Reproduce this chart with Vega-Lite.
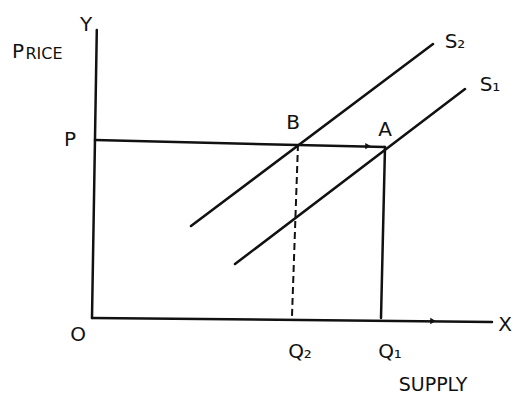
{
  "$schema": "https://vega.github.io/schema/vega-lite/v6.json",
  "width": 515,
  "height": 394,
  "padding": 0,
  "autosize": {"type": "none"},
  "background": "white",
  "config": {"view": {"stroke": null}},
  "datasets": {
    "lines": [
      {"seg": "yaxis", "o": 0, "q": 0, "p": 0},
      {"seg": "yaxis", "o": 1, "q": 0.12, "p": 9.6},
      {"seg": "xaxis", "o": 0, "q": 0, "p": 0},
      {"seg": "xaxis", "o": 1, "q": 10.0, "p": -0.13},
      {"seg": "pline", "o": 0, "q": 0.075, "p": 5.93},
      {"seg": "pline", "o": 1, "q": 7.325, "p": 5.7},
      {"seg": "s2", "o": 0, "q": 2.475, "p": 3.07},
      {"seg": "s2", "o": 1, "q": 8.525, "p": 9.13},
      {"seg": "s1", "o": 0, "q": 3.575, "p": 1.8},
      {"seg": "s1", "o": 1, "q": 9.325, "p": 7.63},
      {"seg": "q1", "o": 0, "q": 7.325, "p": 5.7},
      {"seg": "q1", "o": 1, "q": 7.225, "p": 0}
    ],
    "dashed": [
      {"seg": "q2", "o": 0, "q": 5.15, "p": 5.8},
      {"seg": "q2", "o": 1, "q": 5.0, "p": 0.07}
    ],
    "arrows": [
      {"q": 8.525, "p": -0.1},
      {"q": 6.9, "p": 5.73}
    ],
    "labels": [
      {"label": "Y", "q": -0.15, "p": 9.77},
      {"label": "P", "q": -1.85, "p": 8.87},
      {"label": "P", "q": -0.55, "p": 5.93},
      {"label": "O", "q": -0.35, "p": -0.57},
      {"label": "B", "q": 5.025, "p": 6.5},
      {"label": "A", "q": 7.325, "p": 6.27},
      {"label": "S₂", "q": 9.075, "p": 9.2},
      {"label": "S₁", "q": 9.95, "p": 7.77},
      {"label": "Q₂", "q": 5.2, "p": -1.13},
      {"label": "Q₁", "q": 7.45, "p": -1.13},
      {"label": "X", "q": 10.325, "p": -0.23}
    ],
    "small": [
      {"label": "RICE", "q": -1.2, "p": 8.8}
    ],
    "axisTitle": [
      {"label": "SUPPLY", "q": 8.525, "p": -2.23}
    ]
  },
  "encoding": {
    "x": {"field": "q", "type": "quantitative", "scale": {"domain": [-2.3, 10.575], "nice": false, "zero": false}, "axis": null},
    "y": {"field": "p", "type": "quantitative", "scale": {"domain": [-2.533, 10.6], "nice": false, "zero": false}, "axis": null}
  },
  "layer": [
    {
      "data": {"name": "lines"},
      "mark": {"type": "line", "color": "#111", "strokeWidth": 2.5, "strokeCap": "round"},
      "encoding": {"detail": {"field": "seg"}, "order": {"field": "o", "type": "quantitative"}}
    },
    {
      "data": {"name": "dashed"},
      "mark": {"type": "line", "color": "#111", "strokeWidth": 2, "strokeDash": [7, 4]},
      "encoding": {"detail": {"field": "seg"}, "order": {"field": "o", "type": "quantitative"}}
    },
    {
      "data": {"name": "arrows"},
      "mark": {"type": "point", "shape": "triangle-right", "filled": true, "color": "#111", "size": 40, "opacity": 1},
      "encoding": {}
    },
    {
      "data": {"name": "labels"},
      "mark": {"type": "text", "font": "DejaVu Sans", "fontSize": 20, "color": "#111", "align": "center", "baseline": "middle"},
      "encoding": {"text": {"field": "label"}}
    },
    {
      "data": {"name": "small"},
      "mark": {"type": "text", "font": "DejaVu Sans", "fontSize": 16, "color": "#111", "align": "center", "baseline": "middle"},
      "encoding": {"text": {"field": "label"}}
    },
    {
      "data": {"name": "axisTitle"},
      "mark": {"type": "text", "font": "DejaVu Sans", "fontSize": 19, "color": "#111", "align": "center", "baseline": "middle"},
      "encoding": {"text": {"field": "label"}}
    }
  ]
}
